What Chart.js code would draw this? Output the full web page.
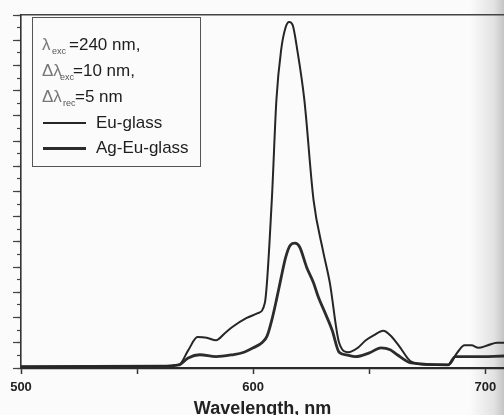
<!DOCTYPE html>
<html>
<head>
<meta charset="utf-8">
<script src="https://cdn.jsdelivr.net/npm/chart.js@4/dist/chart.umd.min.js"></script>
<style>
    html, body { margin: 0; padding: 0; }
    body {
        width: 504px; height: 415px; overflow: hidden;
        background: linear-gradient(to right, #fbfbfb 0, #fbfbfb 470px, #e2e2e2 494px, #c4c4c4 504px);
        font-family: "Liberation Sans", Arial, sans-serif;
        position: relative;
    }
    #chart { position: absolute; left: 0; top: 0; }
    #legendBox {
        position: absolute; left: 32px; top: 17px; width: 169px; height: 150px;
        border: 1.5px solid #555; box-sizing: border-box;
    }
    .row { position: absolute; left: 0; height: 20px; line-height: 20px; font-size: 17px; color: #1e1e1e; white-space: nowrap; }
    .sym { position: absolute; color: #777; }
    .sub { position: absolute; font-size: 9px; color: #555; }
    .txt { position: absolute; }
    .sample { position: absolute; left: 10px; width: 43px; }
</style>
</head>
<body>
<canvas id="chart" width="504" height="415"></canvas>
<div id="legendBox">
    <div class="row" style="top:17px"><span class="sym" style="left:9px">λ</span><span class="sub" style="left:19px;top:6px">exc</span><span class="txt" style="left:36px">=240 nm,</span></div>
    <div class="row" style="top:43px"><span class="sym" style="left:9px">Δλ</span><span class="sub" style="left:27px;top:6px">exc</span><span class="txt" style="left:40px">=10 nm,</span></div>
    <div class="row" style="top:69px"><span class="sym" style="left:9px">Δλ</span><span class="sub" style="left:30px;top:6px">rec</span><span class="txt" style="left:42px">=5 nm</span></div>
    <div class="row" style="top:95px"><span class="sample" id="euSample" style="top:9px"></span><span class="txt" style="left:63px">Eu-glass</span></div>
    <div class="row" style="top:120px"><span class="sample" id="agSample" style="top:9px"></span><span class="txt" style="left:63px">Ag-Eu-glass</span></div>
</div>
<script>
// emission spectra, wavelength in nm, intensity in arb. units (one unit = one y tick)
const euWavelength = [500, 560, 568, 572, 576, 580, 584, 588, 591, 597, 602, 605, 608, 610, 612, 614, 615.5, 617, 619, 622, 626, 630, 633, 637, 641, 645, 648.5, 652, 656, 659, 663, 668, 675, 684, 688, 691, 694, 697, 701, 705, 708];
const euIntensity = [0.1, 0.15, 0.25, 1.4, 2.45, 2.4, 2.2, 2.8, 3.25, 3.95, 4.35, 5.15, 13.3, 21.3, 25.2, 27.05, 27.45, 27.2, 25.2, 21.3, 13.3, 9.35, 6.75, 2.0, 1.25, 1.6, 2.2, 2.6, 2.95, 2.6, 1.7, 0.5, 0.25, 0.25, 1.25, 1.8, 1.8, 1.6, 1.8, 2.0, 2.0];

const agWavelength = [500, 560, 568, 572, 577, 584, 591, 596, 600, 604, 606, 608, 610, 612, 614, 616, 618, 620, 623, 626, 628, 631, 634, 637, 640, 644, 650, 655, 659, 662, 668, 684, 687, 695, 708];
const agIntensity = [0.1, 0.15, 0.25, 0.8, 1.05, 0.9, 1.05, 1.25, 1.6, 2.05, 2.55, 3.8, 5.4, 7.15, 8.8, 9.75, 9.9, 9.6, 8.0, 6.75, 5.65, 4.35, 3.0, 1.25, 1.05, 0.9, 1.2, 1.6, 1.45, 1.05, 0.4, 0.25, 0.9, 0.9, 0.95];

const seriesNames = ['Eu-glass', 'Ag-Eu-glass'];
const xTickValues = [500, 550, 600, 650, 700];

const fontFamily = '"Liberation Sans", Arial, sans-serif';
const euColor = '#262626';
const agColor = '#2c2c2c';

document.getElementById('euSample').style.borderTop = '2px solid ' + euColor;
document.getElementById('agSample').style.borderTop = '3px solid ' + agColor;

const toPoints = (xs, ys) => xs.map((x, i) => ({ x: x, y: ys[i] }));

const ctx = document.getElementById('chart').getContext('2d');
new Chart(ctx, {
    type: 'line',
    data: {
        datasets: [{
            label: seriesNames[0],
            data: toPoints(euWavelength, euIntensity),
            borderColor: euColor,
            borderWidth: 2,
            pointRadius: 0,
            cubicInterpolationMode: 'monotone',
            fill: false
        }, {
            label: seriesNames[1],
            data: toPoints(agWavelength, agIntensity),
            borderColor: agColor,
            borderWidth: 2.8,
            pointRadius: 0,
            cubicInterpolationMode: 'monotone',
            fill: false
        }]
    },
    options: {
        responsive: false,
        animation: false,
        layout: { padding: 0 },
        plugins: {
            legend: { display: false },
            tooltip: { enabled: false }
        },
        scales: {
            x: {
                type: 'linear',
                position: 'bottom',
                min: 500,
                max: 708,
                afterFit: (s) => { s.height = 47; },
                afterBuildTicks: (s) => { s.ticks = xTickValues.map(v => ({ value: v })); },
                ticks: {
                    autoSkip: false,
                    maxRotation: 0,
                    padding: 6,
                    color: '#222',
                    font: { family: fontFamily, size: 13, weight: 'bold' },
                    callback: (v) => (v % 100 === 0 ? String(v) : '')
                },
                grid: { drawOnChartArea: false, tickLength: 6, tickColor: '#333', tickWidth: 1.5 },
                border: { color: '#2a2a2a', width: 2.2 },
                title: {
                    display: true,
                    text: 'Wavelength, nm',
                    color: '#222',
                    font: { family: fontFamily, size: 18, weight: 'bold', lineHeight: 1 },
                    padding: { top: 0, bottom: -3 }
                }
            },
            xTop: {
                type: 'linear',
                position: 'top',
                min: 500,
                max: 708,
                afterFit: (s) => { s.height = 15; },
                ticks: { display: false },
                grid: { display: false, drawTicks: false },
                border: { color: '#444', width: 1.5 }
            },
            y: {
                position: 'left',
                min: 0,
                max: 28,
                weight: 1,
                afterFit: (s) => { s.width = 21; },
                ticks: { display: false, stepSize: 1 },
                grid: { drawOnChartArea: false, tickLength: 4, tickColor: '#444', tickWidth: 1.2 },
                border: { color: '#333', width: 1.6 }
            },
            y2: {
                position: 'left',
                min: 0,
                max: 28,
                weight: 0,
                afterFit: (s) => { s.width = 0; },
                ticks: { display: false, stepSize: 2 },
                grid: { drawOnChartArea: false, tickLength: 8, tickColor: '#444', tickWidth: 1.2 },
                border: { display: false }
            }
        }
    }
});
</script>
</body>
</html>
